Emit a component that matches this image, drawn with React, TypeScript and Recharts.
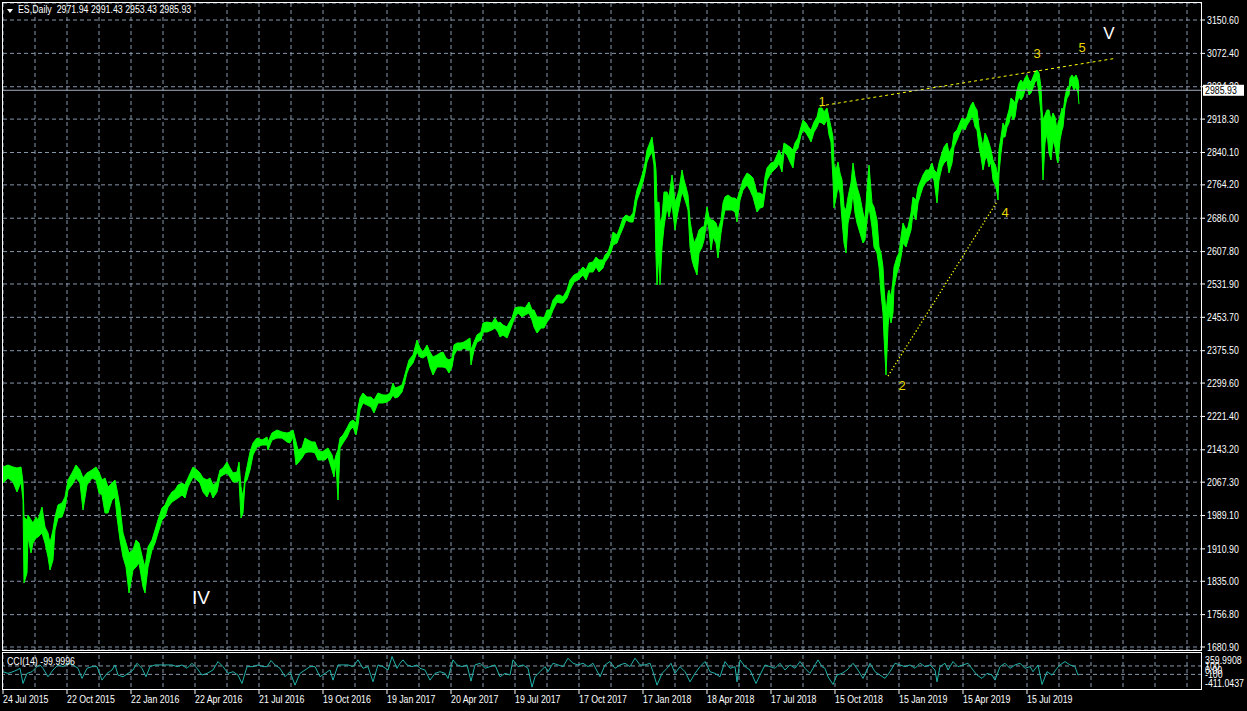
import {
  Area,
  CartesianGrid,
  ComposedChart,
  Line,
  LineChart,
  ReferenceDot,
  ReferenceLine,
  XAxis,
  YAxis
} from "recharts";

const FONT = '"Liberation Sans", Arial, sans-serif';
const FS = 10;
const NARROW = 0.88; // squeeze Arial-like glyphs to terminal-font widths
const GRID = "#8797ab";
const GREEN = "#00ff00";
const WAVE_YELLOW = "#e8d800";

// bar number (trading days since 24 Jul 2015), sampled every few bars
const barIndex = [
  // Jul 2015 - Jul 2016
  0, 5, 10, 14, 18, 20, 21, 24, 25, 28,
  30, 33, 35, 39, 42, 45, 47, 50, 52, 55,
  59, 62, 65, 69, 73, 77, 80, 84, 89, 93,
  96, 99, 102, 105, 109, 112, 114, 117, 120, 123,
  126, 130, 133, 136, 140, 142, 145, 149, 152, 155,
  159, 162, 165, 169, 172, 175, 179, 182, 185, 190,
  194, 197, 200, 204, 207, 210, 214, 217, 220, 224,
  227, 230, 234, 236, 238, 240, 242, 244, 247, 250,
  254,
  // Jul 2016 - Jul 2017
  259, 264, 265, 269, 274, 279, 284, 287, 290, 293,
  295, 299, 302, 305, 309, 312, 315, 319, 322, 325,
  329, 331, 333, 335, 337, 340, 344, 347, 350, 353,
  355, 357, 360, 364, 368, 371, 375, 380, 384, 387,
  390, 392, 395, 399, 401, 404, 406, 410, 414, 417,
  420, 424, 427, 430, 434, 437, 440, 443, 446, 449,
  451, 454, 458, 461, 464, 467, 468, 471, 474, 478,
  480, 484, 489, 492, 495,
  // Jul 2017 - Jul 2018
  497, 500, 504, 506, 509, 512, 515, 519, 522, 526,
  529, 531, 534, 538, 541, 544, 547, 550, 554, 557,
  560, 564, 567, 571, 575, 580, 583, 586, 590, 593,
  596, 600, 602, 605, 608, 610, 614, 617, 620, 623,
  627, 630, 632, 634, 637, 640, 642, 644, 646, 649,
  651, 653, 654, 656, 657, 659, 661, 664, 666, 669,
  670, 672, 674, 676, 679, 681, 683, 685, 687, 689,
  691, 694, 696, 699, 701, 704, 706, 708, 710, 713,
  715, 718, 720, 722, 725, 729, 732, 734, 737, 740,
  744, 747, 750, 754,
  // Jul 2018 - Jun 2019
  757, 760, 762, 764, 768, 771, 774, 776, 779, 781,
  784, 787, 790, 792, 795, 798, 800, 803, 806, 808,
  811, 814, 816, 819, 821, 824, 826, 828, 830, 831,
  833, 835, 837, 839, 841, 843, 845, 848, 850, 852,
  854, 857, 860, 862, 864, 866, 869, 871, 874, 876,
  878, 880, 881, 883, 885, 886, 888, 890, 891, 894,
  896, 898, 900, 903, 905, 908, 910, 913, 915, 918,
  920, 923, 926, 929, 931, 934, 936, 939, 941, 944,
  946, 949, 951, 954, 956, 959, 962, 964, 966, 968,
  970, 972, 974, 976, 978, 980, 982, 984, 986, 988,
  990, 993, 994, 995, 996,
  // Jun 2019 - Sep 2019
  998, 1000, 1002, 1004, 1006, 1008, 1010, 1012, 1014, 1016,
  1018, 1020, 1022, 1024, 1026, 1028, 1030, 1032, 1034, 1036,
  1038, 1039, 1040, 1042, 1044, 1046, 1048, 1050, 1052, 1054,
  1055, 1057, 1059, 1060, 1062, 1064, 1066, 1067, 1069, 1071,
  1073, 1075, 1076
];

const highs = [
  2102.9, 2107.5, 2102.9, 2100.5, 2102.9, 2067.7, 1985.7, 1978.6, 1990.3, 1978.6,
  1971.6, 1985.7, 1978.6, 2009.1, 1962.2, 1948.1, 1924.7, 1955.2, 1985.7, 2013.8,
  2018.5, 2032.5, 2072.4, 2088.8, 2107.5, 2095.8, 2077.1, 2088.8, 2095.8, 2102.9,
  2091.1, 2072.4, 2077.1, 2056.0, 2065.3, 2072.4, 2048.9, 2009.1, 1948.1, 1924.7,
  1901.3, 1908.3, 1931.7, 1924.7, 1884.9, 1868.5, 1915.3, 1931.7, 1955.2, 1978.6,
  2006.7, 2013.8, 2030.2, 2044.3, 2048.9, 2060.7, 2065.3, 2060.7, 2077.1, 2102.9,
  2095.8, 2088.8, 2077.1, 2072.4, 2077.1, 2060.7, 2067.7, 2095.8, 2100.5, 2114.6,
  2100.5, 2088.8, 2091.1, 2114.6, 2056.0, 2032.5, 2079.4, 2102.9, 2138.0, 2159.1,
  2170.8,
  2166.1, 2173.2, 2161.5, 2182.5, 2189.6, 2184.9, 2182.5, 2184.9, 2189.6, 2161.5,
  2142.7, 2147.4, 2170.8, 2166.1, 2161.5, 2161.5, 2142.7, 2138.0, 2142.7, 2147.4,
  2131.0, 2112.2, 2131.0, 2142.7, 2170.8, 2177.9, 2194.3, 2208.3, 2213.0, 2206.0,
  2241.1, 2264.6, 2276.3, 2266.9, 2266.9, 2259.9, 2276.3, 2271.6, 2271.6, 2276.3,
  2299.7, 2288.0, 2290.4, 2295.1, 2311.5, 2337.3, 2353.7, 2365.4, 2400.5, 2381.8,
  2372.4, 2388.8, 2372.4, 2360.7, 2365.4, 2370.1, 2372.4, 2358.3, 2353.7, 2358.3,
  2388.8, 2393.5, 2393.5, 2395.9, 2400.5, 2405.2, 2377.1, 2395.9, 2412.3, 2419.3,
  2440.4, 2442.7, 2440.4, 2452.1, 2440.4,
  2442.7, 2435.7, 2431.0, 2440.4, 2452.1, 2475.5, 2477.9, 2477.9, 2475.5, 2489.6,
  2470.9, 2470.9, 2454.5, 2454.5, 2452.1, 2470.9, 2470.9, 2494.3, 2506.0, 2506.0,
  2501.3, 2517.7, 2541.2, 2552.9, 2557.6, 2571.7, 2564.6, 2581.0, 2583.4, 2595.1,
  2588.1, 2588.1, 2599.8, 2606.8, 2627.9, 2653.7, 2646.7, 2665.4, 2686.5, 2693.5,
  2688.9, 2698.2, 2728.7, 2752.1, 2770.9, 2794.3, 2815.4, 2845.9, 2857.6, 2876.4,
  2841.2, 2799.0, 2721.7, 2724.0, 2674.8, 2688.9, 2747.5, 2747.5, 2735.7, 2787.3,
  2770.9, 2721.7, 2735.7, 2752.1, 2799.0, 2775.6, 2759.2, 2740.4, 2681.8, 2651.3,
  2627.9, 2642.0, 2658.4, 2665.4, 2665.4, 2712.3, 2688.9, 2681.8, 2681.8, 2674.8,
  2658.4, 2681.8, 2721.7, 2735.7, 2740.4, 2733.4, 2733.4, 2728.7, 2752.1, 2775.6,
  2792.0, 2787.3, 2780.3, 2745.1,
  2745.1, 2740.4, 2782.6, 2803.7, 2815.4, 2817.8, 2834.2, 2845.9, 2829.5, 2862.3,
  2857.6, 2852.9, 2845.9, 2862.3, 2874.0, 2899.8, 2916.2, 2909.2, 2897.5, 2892.8,
  2911.5, 2923.2, 2944.3, 2944.3, 2935.0, 2944.3, 2920.9, 2899.8, 2876.4, 2810.7,
  2799.0, 2817.8, 2792.0, 2775.6, 2712.3, 2705.3, 2735.7, 2768.5, 2815.4, 2782.6,
  2759.2, 2735.7, 2698.2, 2681.8, 2752.1, 2810.7, 2721.7, 2712.3, 2681.8, 2618.5,
  2604.5, 2571.7, 2524.8, 2463.8, 2510.7, 2517.7, 2501.3, 2541.2, 2571.7, 2595.1,
  2604.5, 2642.0, 2674.8, 2658.4, 2665.4, 2698.2, 2735.7, 2728.7, 2759.2, 2775.6,
  2787.3, 2799.0, 2799.0, 2815.4, 2799.0, 2792.0, 2815.4, 2838.9, 2852.9, 2862.3,
  2838.9, 2852.9, 2885.7, 2892.8, 2904.5, 2920.9, 2916.2, 2923.2, 2939.7, 2951.4,
  2958.4, 2946.7, 2939.7, 2899.8, 2876.4, 2852.9, 2885.7, 2876.4, 2862.3, 2845.9,
  2822.5, 2806.1, 2792.0, 2792.0, 2845.9,
  2876.4, 2909.2, 2899.8, 2923.2, 2939.7, 2967.8, 2963.1, 2956.1, 2986.5, 3002.9,
  3010.0, 3002.9, 3014.7, 3021.7, 3010.0, 3005.3, 3017.0, 3028.7, 3033.4, 3026.4,
  2993.6, 2939.7, 2916.2, 2927.9, 2939.7, 2939.7, 2916.2, 2932.6, 2923.2, 2892.8,
  2909.2, 2923.2, 2944.3, 2932.6, 2970.1, 2991.2, 2993.6, 3014.7, 3021.7, 3014.7,
  3021.7, 3010.0, 2991.43
];

const lows = [
  2065.3, 2077.1, 2067.7, 2044.3, 2067.7, 2025.5, 1830.9, 1854.4, 1938.8, 1901.3,
  1924.7, 1936.4, 1938.8, 1948.1, 1924.7, 1891.9, 1861.4, 1884.9, 1955.2, 1983.3,
  1985.7, 2006.7, 2048.9, 2060.7, 2077.1, 2065.3, 2002.1, 2060.7, 2077.1, 2072.4,
  2041.9, 2037.2, 1995.0, 1995.0, 2025.5, 2032.5, 1985.7, 1931.7, 1891.9, 1868.5,
  1807.5, 1861.4, 1868.5, 1877.8, 1821.6, 1807.5, 1868.5, 1908.3, 1924.7, 1948.1,
  1978.6, 1985.7, 2009.1, 2020.8, 2025.5, 2030.2, 2037.2, 2030.2, 2056.0, 2079.4,
  2072.4, 2065.3, 2044.3, 2032.5, 2048.9, 2030.2, 2044.3, 2079.4, 2084.1, 2088.8,
  2079.4, 2067.7, 2067.7, 2072.4, 1983.3, 1995.0, 2065.3, 2072.4, 2095.8, 2131.0,
  2149.7,
  2154.4, 2154.4, 2142.7, 2166.1, 2170.8, 2170.8, 2161.5, 2159.1, 2173.2, 2107.5,
  2112.2, 2123.9, 2135.7, 2138.0, 2138.0, 2135.7, 2119.3, 2119.3, 2119.3, 2126.3,
  2095.8, 2079.4, 2112.2, 2025.5, 2147.4, 2159.1, 2173.2, 2189.6, 2196.6, 2177.9,
  2201.3, 2236.5, 2252.9, 2248.2, 2243.5, 2229.4, 2252.9, 2252.9, 2255.2, 2259.9,
  2271.6, 2264.6, 2266.9, 2278.7, 2295.1, 2323.2, 2334.9, 2346.6, 2372.4, 2360.7,
  2358.3, 2365.4, 2337.3, 2318.5, 2337.3, 2337.3, 2337.3, 2334.9, 2323.2, 2337.3,
  2365.4, 2377.1, 2377.1, 2381.8, 2377.1, 2377.1, 2341.9, 2377.1, 2395.9, 2400.5,
  2419.3, 2419.3, 2424.0, 2428.7, 2419.3,
  2407.6, 2412.3, 2405.2, 2416.9, 2435.7, 2454.5, 2463.8, 2454.5, 2459.1, 2463.8,
  2447.4, 2431.0, 2416.9, 2428.7, 2428.7, 2442.7, 2452.1, 2470.9, 2489.6, 2487.3,
  2487.3, 2499.0, 2517.7, 2536.5, 2541.2, 2552.9, 2541.2, 2559.9, 2559.9, 2571.7,
  2559.9, 2569.3, 2583.4, 2592.7, 2606.8, 2623.2, 2627.9, 2646.7, 2663.1, 2681.8,
  2677.1, 2677.1, 2700.6, 2728.7, 2747.5, 2770.9, 2792.0, 2817.8, 2829.5, 2841.2,
  2810.7, 2595.1, 2529.5, 2604.5, 2529.5, 2618.5, 2665.4, 2712.3, 2688.9, 2721.7,
  2698.2, 2658.4, 2688.9, 2712.3, 2747.5, 2735.7, 2721.7, 2705.3, 2618.5, 2588.1,
  2571.7, 2552.9, 2604.5, 2618.5, 2634.9, 2681.8, 2658.4, 2611.5, 2642.0, 2627.9,
  2592.7, 2651.3, 2681.8, 2705.3, 2705.3, 2705.3, 2700.6, 2677.1, 2728.7, 2752.1,
  2763.9, 2752.1, 2735.7, 2700.6,
  2709.9, 2712.3, 2745.1, 2775.6, 2792.0, 2799.0, 2806.1, 2815.4, 2794.3, 2841.2,
  2834.2, 2817.8, 2803.7, 2841.2, 2850.6, 2881.1, 2892.8, 2885.7, 2874.0, 2864.7,
  2888.1, 2899.8, 2911.5, 2909.2, 2904.5, 2916.2, 2881.1, 2864.7, 2775.6, 2709.9,
  2733.4, 2759.2, 2745.1, 2681.8, 2627.9, 2604.5, 2674.8, 2705.3, 2745.1, 2698.2,
  2674.8, 2651.3, 2627.9, 2634.9, 2681.8, 2712.3, 2665.4, 2618.5, 2604.5, 2571.7,
  2510.7, 2463.8, 2407.6, 2318.5, 2431.0, 2463.8, 2440.4, 2463.8, 2524.8, 2557.6,
  2571.7, 2595.1, 2627.9, 2618.5, 2634.9, 2658.4, 2698.2, 2681.8, 2721.7, 2745.1,
  2759.2, 2770.9, 2775.6, 2782.6, 2775.6, 2721.7, 2775.6, 2806.1, 2815.4, 2822.5,
  2792.0, 2815.4, 2852.9, 2869.3, 2881.1, 2897.5, 2892.8, 2904.5, 2911.5, 2920.9,
  2923.2, 2899.8, 2892.8, 2852.9, 2829.5, 2799.0, 2822.5, 2829.5, 2806.1, 2817.8,
  2775.6, 2759.2, 2745.1, 2728.7, 2792.0,
  2838.9, 2876.4, 2876.4, 2899.8, 2909.2, 2932.6, 2916.2, 2923.2, 2956.1, 2970.1,
  2963.1, 2970.1, 2986.5, 2993.6, 2974.8, 2979.5, 2991.2, 3005.3, 3010.0, 2979.5,
  2932.6, 2838.9, 2775.6, 2862.3, 2885.7, 2838.9, 2822.5, 2869.3, 2852.9, 2822.5,
  2815.4, 2869.3, 2892.8, 2899.8, 2946.7, 2967.8, 2974.8, 2993.6, 2998.3, 2986.5,
  2993.6, 2979.5, 2953.43
];

// CCI(14) sampled from the indicator window
const cciBars = [
  0, 5, 10, 14, 17, 20, 24, 29, 34, 37,
  40, 45, 50, 55, 60, 65, 70, 75, 79, 84,
  89, 94, 99, 104, 109, 112, 115, 120, 125, 130,
  134, 139, 143, 147, 152, 157, 164, 169, 174, 179,
  184, 189, 194, 199, 204, 210, 215, 220, 225, 230,
  235, 239, 244, 250, 255, 260, 264, 268, 272, 277,
  282, 287, 292, 297, 302, 307, 312, 317, 322, 327,
  330, 335, 340, 345, 350, 355, 360, 365, 370, 375,
  380, 385, 389, 394, 397, 400, 404, 409, 414, 417,
  422, 427, 432, 437, 442, 445, 450, 454, 459, 464,
  468, 472, 477, 482, 487, 492, 497, 502, 507, 510,
  515, 520, 525, 529, 532, 537, 542, 545, 550, 555,
  560, 565, 570, 575, 580, 585, 590, 597, 602, 607,
  612, 617, 622, 627, 632, 637, 642, 647, 650, 654,
  659, 664, 668, 672, 677, 682, 687, 692, 697, 702,
  707, 712, 717, 722, 727, 732, 734, 737, 742, 747,
  753, 757, 762, 767, 772, 777, 782, 787, 792, 797,
  802, 807, 812, 815, 819, 822, 825, 830, 834, 839,
  844, 850, 855, 860, 867, 872, 877, 882, 887, 892,
  897, 902, 907, 912, 917, 922, 927, 932, 934, 937,
  942, 945, 950, 955, 960, 965, 970, 974, 979, 984,
  989, 992, 997, 1002, 1007, 1012, 1017, 1022, 1027, 1030,
  1035, 1039, 1044, 1049, 1054, 1057, 1062, 1067, 1072, 1075,
  1076
];

const cciValues = [
  -36, -76, -36, 4, 44, -316, -76, -36, 84, 124,
  44, -156, 4, 124, 84, 164, 124, 44, -196, 44,
  84, 84, -236, -76, 4, 124, -116, -156, -76, 4,
  164, 44, -156, 84, 124, 124, 124, 124, 84, 124,
  44, 164, 44, -116, -76, 4, 204, 84, -76, -36,
  -116, -316, 84, 84, 124, 84, 84, 228, 124, 44,
  -156, -36, -356, -76, 4, 84, 84, -156, -76, 4,
  -236, 124, 124, 124, 84, 244, 44, 84, -276, 124,
  84, 4, 324, 44, 164, 244, 124, 84, 124, 44,
  4, -236, -76, -36, -76, -196, 244, 124, 84, 124,
  -260, 124, 164, 44, 84, 124, -156, -76, -116, 244,
  84, 124, 44, -405, -156, -36, 84, -36, 164, 124,
  84, 284, 164, 124, 164, 84, 164, -156, 124, 204,
  44, 124, 164, 84, 284, 124, 124, 164, -36, -356,
  -76, 44, 164, -76, 84, -36, -276, -76, 84, 204,
  -36, -76, -156, 204, 44, 84, -276, 244, 84, 4,
  -316, -116, 124, 84, 44, 164, 4, 124, 44, 204,
  44, -76, 124, 244, 84, 44, -156, -340, -116, -76,
  4, 164, 4, -196, 164, -36, -116, -196, -36, 164,
  124, 84, 124, 44, 164, 84, 124, 4, -276, 84,
  164, 4, 204, 84, 124, 164, 4, -116, -196, -76,
  -116, -236, 84, 164, 44, 124, 164, 44, 84, -36,
  124, -340, -36, -116, 44, 124, 204, 124, 84, -116,
  -100
];

const priceTicks = [
  3150.6, 3072.4, 2994.2, 2918.3, 2840.1, 2764.2, 2686.0, 2607.8, 2531.9, 2453.7,
  2375.5, 2299.6, 2221.4, 2143.2, 2067.3, 1989.1, 1910.9, 1835.0, 1756.8, 1680.9
];

const dateLabels = [
  "24 Jul 2015", "22 Oct 2015", "22 Jan 2016", "22 Apr 2016", "21 Jul 2016",
  "19 Oct 2016", "19 Jan 2017", "20 Apr 2017", "19 Jul 2017", "17 Oct 2017",
  "17 Jan 2018", "18 Apr 2018", "17 Jul 2018", "15 Oct 2018", "15 Jan 2019",
  "15 Apr 2019", "15 Jul 2019"
];

const cciTickValues = [359.9908, 100, 0, -100, -411.0437];
const cciTickLabels = ["359.9908", "100", "0.00", "-100", "-411.0437"];

const lastBar = { open: 2971.94, high: 2991.43, low: 2953.43, close: 2985.93 };
const lastCci = -99.9996;

// Elliott wave marks, in bar / price coordinates
const waveCounts = [
  { text: "1", bar: 819, price: 2959 },
  { text: "2", bar: 899, price: 2295 },
  { text: "3", bar: 1034, price: 3072 },
  { text: "4", bar: 1002, price: 2700 },
  { text: "5", bar: 1079, price: 3087 }
];
const waveDegrees = [
  { text: "IV", bar: 198, price: 1798 },
  { text: "V", bar: 1106, price: 3121 }
];
const upperTrend = [
  { x: 817, y: 2949 },
  { x: 1113, y: 3061 }
];
const lowerTrend = [
  { x: 885, y: 2316 },
  { x: 994, y: 2725 }
];

const BAR_SPAN = 1199;
const PRICE_DOMAIN = [1673.9, 3190.5];
const gridBars = Array.from({ length: 38 }, (_, i) => i * 32);

const priceRows = barIndex.map((bar, i) => ({ bar, range: [lows[i], highs[i]] }));
const cciRows = cciBars.map((bar, i) => ({ bar, cci: cciValues[i] }));

function SlimText({ x, y, fill, children, dy }: any) {
  return (
    <text
      transform={`translate(${x} ${y}) scale(${NARROW} 1)`}
      x={0}
      y={0}
      dy={dy}
      fill={fill}
      fontSize={FS}
      fontFamily={FONT}
      textAnchor="start"
    >
      {children}
    </text>
  );
}

function EmptyTick() {
  return <g />;
}

function PriceTick(props: any) {
  const { x, y, payload } = props;
  return (
    <SlimText x={x} y={y} dy="0.36em" fill="#ffffff">
      {Number(payload?.value).toFixed(2)}
    </SlimText>
  );
}

function PriceBox(props: any) {
  const vb = props.viewBox;
  if (!vb) return null;
  const left = vb.x + vb.width + 1;
  return (
    <g>
      <rect x={left} y={vb.y - 5.5} width={41} height={11} fill="#ffffff" />
      <SlimText x={left + 2} y={vb.y} dy="0.36em" fill="#000000">
        {lastBar.close.toFixed(2)}
      </SlimText>
    </g>
  );
}

function DateTick(props: any) {
  const { x, y, payload } = props;
  const v = payload?.value;
  if (v % 64 !== 0 || !dateLabels[v / 64]) return <g />;
  return (
    <g>
      <line x1={x} x2={x} y1={y + 2.5} y2={y + 6.5} stroke="#ffffff" />
      <SlimText x={x} y={y + 15.5} fill="#ffffff">
        {dateLabels[v / 64]}
      </SlimText>
    </g>
  );
}

function CciTick(props: any) {
  const { x, y, payload } = props;
  const idx = cciTickValues.indexOf(payload?.value);
  if (idx < 0) return <g />;
  const shift = idx === 0 ? 5 : idx === cciTickValues.length - 1 ? -4.5 : 0;
  return (
    <SlimText x={x} y={y + shift} dy="0.36em" fill="#ffffff">
      {cciTickLabels[idx]}
    </SlimText>
  );
}

const slimCaption = {
  position: "absolute" as const,
  color: "#ffffff",
  fontSize: FS,
  lineHeight: "12px",
  whiteSpace: "pre" as const,
  transform: `scaleX(${NARROW})`,
  transformOrigin: "left top"
};

export default function App() {
  return (
    <div
      style={{
        position: "absolute",
        left: 0,
        top: 0,
        width: 1247,
        height: 711,
        background: "#000000",
        overflow: "hidden",
        fontFamily: FONT
      }}
    >
      <div style={{ position: "absolute", left: 0, top: 0 }}>
        <ComposedChart
          width={1247}
          height={652}
          data={priceRows}
          margin={{ top: 3, right: 0, bottom: 2, left: 3 }}
        >
          <CartesianGrid stroke={GRID} strokeDasharray="4 3" verticalValues={gridBars} />
          <XAxis
            dataKey="bar"
            type="number"
            domain={[0, BAR_SPAN]}
            ticks={gridBars}
            tick={<EmptyTick />}
            tickLine={false}
            axisLine={false}
            height={0}
            interval={0}
            allowDataOverflow
          />
          <YAxis
            orientation="right"
            type="number"
            domain={PRICE_DOMAIN}
            ticks={priceTicks}
            width={45}
            axisLine={false}
            tickSize={3}
            tickMargin={2}
            tickLine={{ stroke: "#ffffff" }}
            tick={<PriceTick />}
            interval={0}
            allowDataOverflow
          />
          <Area
            dataKey="range"
            type="linear"
            stroke={GREEN}
            strokeWidth={1}
            fill={GREEN}
            fillOpacity={1}
            dot={false}
            activeDot={false}
            isAnimationActive={false}
          />
          <ReferenceLine segment={upperTrend} stroke="#ffff00" strokeDasharray="3 3" />
          <ReferenceLine segment={lowerTrend} stroke="#ffff00" strokeWidth={1.3} strokeDasharray="1.3 2.2" />
          {waveCounts.map((w) => (
            <ReferenceDot
              key={w.text}
              x={w.bar}
              y={w.price}
              r={0}
              fill="none"
              stroke="none"
              label={{ value: w.text, position: "center", fill: WAVE_YELLOW, fontSize: 13, fontFamily: FONT }}
            />
          ))}
          {waveDegrees.map((w) => (
            <ReferenceDot
              key={w.text}
              x={w.bar}
              y={w.price}
              r={0}
              fill="none"
              stroke="none"
              label={{
                value: w.text,
                position: "center",
                fill: "#ffffff",
                fontSize: w.text === "V" ? 17 : 19,
                fontFamily: FONT
              }}
            />
          ))}
        </ComposedChart>
      </div>

      {/* last-price line and its box, drawn above the price scale */}
      <div style={{ position: "absolute", left: 0, top: 0, pointerEvents: "none" }}>
        <ComposedChart
          width={1247}
          height={652}
          data={priceRows}
          margin={{ top: 3, right: 45, bottom: 2, left: 3 }}
        >
          <XAxis dataKey="bar" type="number" domain={[0, BAR_SPAN]} hide />
          <YAxis type="number" domain={PRICE_DOMAIN} hide allowDataOverflow />
          <ReferenceLine y={lastBar.close} stroke="#a3adbd" strokeWidth={1} label={<PriceBox />} />
        </ComposedChart>
      </div>

      <div style={{ position: "absolute", left: 0, top: 652 }}>
        <LineChart
          width={1247}
          height={59}
          data={cciRows}
          margin={{ top: 3, right: 0, bottom: 0, left: 3 }}
        >
          <CartesianGrid stroke={GRID} strokeDasharray="4 3" horizontal={false} verticalValues={gridBars} />
          <XAxis
            dataKey="bar"
            type="number"
            domain={[0, BAR_SPAN]}
            ticks={gridBars}
            height={23.5}
            axisLine={false}
            tickLine={false}
            tickSize={0}
            tickMargin={0}
            tick={<DateTick />}
            interval={0}
            allowDataOverflow
          />
          <YAxis
            orientation="right"
            type="number"
            domain={[cciTickValues[cciTickValues.length - 1], cciTickValues[0]]}
            ticks={cciTickValues}
            width={45}
            axisLine={false}
            tickLine={false}
            tickSize={0}
            tickMargin={3}
            tick={<CciTick />}
            interval={0}
            allowDataOverflow
          />
          <ReferenceLine y={100} stroke={GRID} strokeDasharray="4 3" />
          <ReferenceLine y={-100} stroke={GRID} strokeDasharray="4 3" />
          <Line
            dataKey="cci"
            type="linear"
            stroke="#20b2aa"
            strokeWidth={1}
            dot={false}
            activeDot={false}
            isAnimationActive={false}
          />
        </LineChart>
      </div>

      {/* window frames */}
      <div
        style={{
          position: "absolute",
          left: 2,
          top: 2,
          width: 1200,
          height: 649,
          border: "1px solid #ffffff",
          boxSizing: "border-box",
          pointerEvents: "none"
        }}
      />
      <div
        style={{
          position: "absolute",
          left: 2,
          top: 652,
          width: 1200,
          height: 38,
          border: "1px solid #ffffff",
          boxSizing: "border-box",
          pointerEvents: "none"
        }}
      />

      {/* chart caption */}
      <div
        style={{
          position: "absolute",
          left: 7,
          top: 9,
          width: 0,
          height: 0,
          borderLeft: "3px solid transparent",
          borderRight: "3px solid transparent",
          borderTop: "4px solid #ffffff"
        }}
      />
      <div style={{ ...slimCaption, left: 18, top: 4 }}>
        {`ES,Daily  ${lastBar.open.toFixed(2)} ${lastBar.high.toFixed(2)} ${lastBar.low.toFixed(2)} ${lastBar.close.toFixed(2)}`}
      </div>
      <div style={{ ...slimCaption, left: 7, top: 656 }}>{`CCI(14) ${lastCci.toFixed(4)}`}</div>
    </div>
  );
}
